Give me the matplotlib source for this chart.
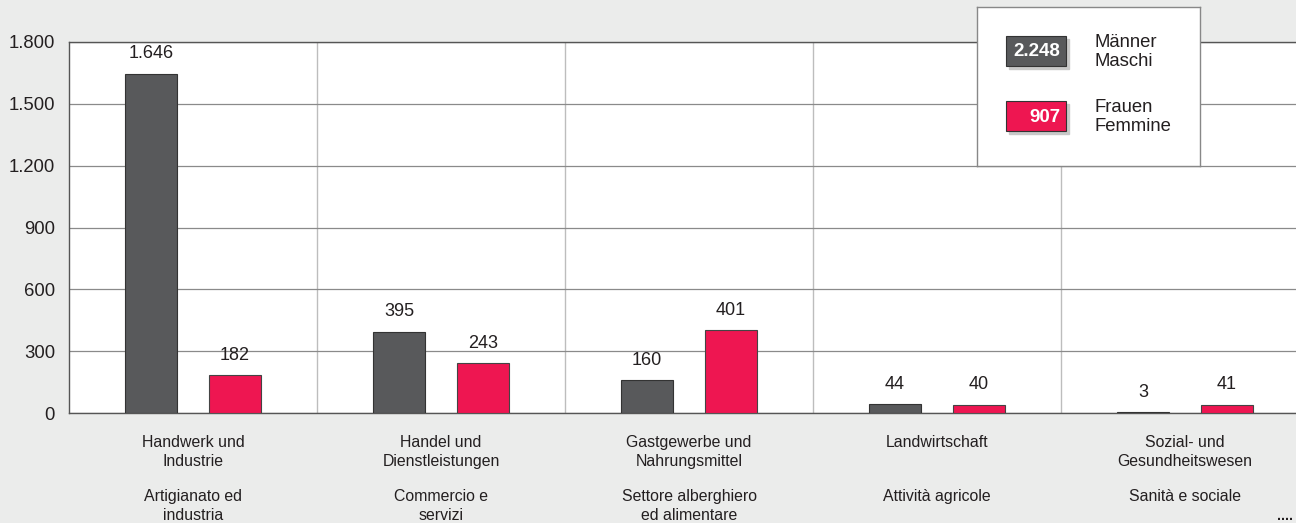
import matplotlib.pyplot as plt
import matplotlib.patches as mpatches
from matplotlib.transforms import blended_transform_factory
import numpy as np

plt.rcParams['font.family'] = ['Liberation Sans', 'DejaVu Sans']

# data
cat_de = ["Handwerk und\nIndustrie", "Handel und\nDienstleistungen",
          "Gastgewerbe und\nNahrungsmittel", "Landwirtschaft",
          "Sozial- und\nGesundheitswesen"]
cat_it = ["Artigianato ed\nindustria", "Commercio e\nservizi",
          "Settore alberghiero\ned alimentare", "Attività agricole",
          "Sanità e sociale"]
maenner = [1646, 395, 160, 44, 3]
frauen = [182, 243, 401, 40, 41]
yticks = [0, 300, 600, 900, 1200, 1500, 1800]

c_m = "#58595B"
c_f = "#EE1651"
bg = "#EBECEB"
txt = "#231F20"


def fmt(v):
    return f"{v:,}".replace(",", ".")


W, H = 1296, 523
fig = plt.figure(figsize=(W / 100, H / 100), dpi=100, facecolor=bg)
# axes spans 5 groups of 248px starting at x=69, runs past right edge
ax = fig.add_axes([69 / W, 1 - 413 / H, 5 * 248 / W, 371 / H])
ax.set_facecolor("white")

x = np.arange(len(maenner))
off, bw = 0.169, 0.21
ax.bar(x - off, maenner, bw, color=c_m, edgecolor="#333333", linewidth=0.8, zorder=3)
ax.bar(x + off, frauen, bw, color=c_f, edgecolor="#444444", linewidth=0.8, zorder=3)
for xi, v in zip(x - off, maenner):
    ax.text(xi, v + 55, fmt(v), ha="center", va="bottom", fontsize=13, color=txt)
for xi, v in zip(x + off, frauen):
    ax.text(xi, v + 55, fmt(v), ha="center", va="bottom", fontsize=13, color=txt)

ax.set_xlim(-0.5, len(maenner) - 0.5)
ax.set_ylim(0, 1800)
ax.set_yticks(yticks)
ax.set_yticklabels([fmt(v) for v in yticks], fontsize=13.3, color=txt)
ax.tick_params(axis="y", length=0, pad=10)
ax.set_xticks([])
ax.grid(axis="y", color="#8a8a8a", linewidth=0.9, zorder=0)
for xv in x[1:] - 0.5:
    ax.axvline(xv, color="#bdbdbd", linewidth=1.0, zorder=1)
for s in ["left", "bottom", "top"]:
    ax.spines[s].set_color("#555555")
    ax.spines[s].set_linewidth(1.0)
ax.spines["right"].set_visible(False)

tr = blended_transform_factory(ax.transData, fig.transFigure)
for xi, de, it in zip(x, cat_de, cat_it):
    ax.text(xi, 1 - 435 / H, de, transform=tr, ha="center", va="top",
            fontsize=11.4, color=txt, linespacing=1.35)
    ax.text(xi, 1 - 489 / H, it, transform=tr, ha="center", va="top",
            fontsize=11.4, color=txt, linespacing=1.35)

# legend box
lg = fig.add_axes([977 / W, 1 - 166 / H, 223 / W, 159 / H])
lg.set_xlim(0, 223)
lg.set_ylim(159, 0)
lg.set_facecolor("white")
lg.set_xticks([])
lg.set_yticks([])
for s in lg.spines.values():
    s.set_color("#888888")
    s.set_linewidth(1.0)
items = [(sum(maenner), c_m, "Männer\nMaschi", 29), (sum(frauen), c_f, "Frauen\nFemmine", 94)]
for tot, col, lab, y0 in items:
    lg.add_patch(mpatches.Rectangle((32, y0 + 3), 60, 30, color="#c8c8c8", zorder=1))
    lg.add_patch(mpatches.Rectangle((29, y0), 60, 30, facecolor=col,
                                    edgecolor="#333333", linewidth=0.8, zorder=2))
    lg.text(83, y0 + 16, fmt(tot), ha="right", va="center", fontsize=13.5,
            fontweight="bold", color="white", zorder=3)
    lg.text(118, y0 + 16, lab, ha="left", va="center", fontsize=13.3,
            color=txt, linespacing=1.15)

fig.text(1293 / W, 1 - 516 / H, "....", ha="right", va="center", fontsize=10,
         color=txt, fontweight="bold")

fig.savefig("out.png", dpi=100, facecolor=bg)
